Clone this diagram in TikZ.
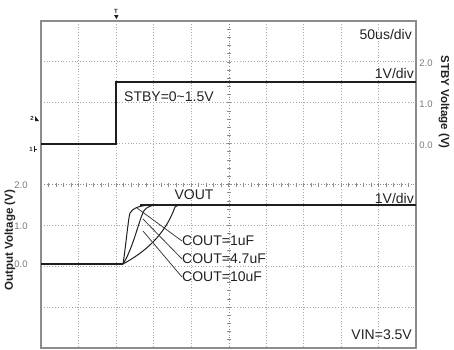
\documentclass[tikz,border=0pt]{standalone}
\usepackage{fontspec}
\setmainfont{Liberation Sans}
\usetikzlibrary{positioning,arrows.meta}
\definecolor{tracegray}{HTML}{1E1E1E}
\definecolor{textgray}{HTML}{222222}
\definecolor{numgray}{HTML}{7A7A7A}
\definecolor{framegray}{HTML}{8C8C8C}
\definecolor{gridgray}{HTML}{A8A8A8}

\begin{document}
\begin{tikzpicture}[x=1pt, y=-1pt, >=Latex,
  lbl/.style={inner sep=0pt, text=textgray, font=\fontsize{14}{16}\selectfont},
  scalelbl/.style={inner sep=0pt, text=numgray, font=\fontsize{9.5}{11}\selectfont},
  axislbl/.style={inner sep=0pt, text=textgray, font=\bfseries\fontsize{11.5}{13}\selectfont},
  marklbl/.style={inner sep=0pt, text=textgray, font=\bfseries\fontsize{6}{7}\selectfont},
  trace/.style={draw=tracegray, line width=1.3pt},
  leader/.style={draw=tracegray!85, line width=0.8pt},
  gridline/.style={draw=gridgray, line width=0.8pt, dotted}]
\useasboundingbox (0,0) rectangle (454,349);

% grid
\foreach \k in {1,2,3,4,6,7,8,9}
  \draw[gridline] (41+37.5*\k,21) -- (41+37.5*\k,348);
\foreach \k in {1,2,3,5,6,7}
  \draw[gridline] (41,21+40.875*\k) -- (416,21+40.875*\k);
% centre axes with ticks
\draw[gridline, draw=framegray] (229,21) -- (229,348);
\draw[gridline, draw=framegray] (41,184.5) -- (416,184.5);
\foreach \k in {1,...,39}
  \draw[framegray, line width=0.7pt] (227,21+8.175*\k) -- (231,21+8.175*\k);
\foreach \k in {1,...,49}
  \draw[framegray, line width=0.7pt] (41+7.5*\k,182.5) -- (41+7.5*\k,186.5);
% frame
\draw[framegray, line width=1.2pt] (41,21) rectangle (416,348);

% markers
\node[marklbl] (trig) at (116,11) {T};
\fill[tracegray] (114,15) -- (118.5,15) -- (116.5,19) -- cycle;
\node[marklbl] (ch2) at (32,118) {2};
\fill[tracegray] (35,116) -- (35,121) -- (39,121) -- cycle;
\node[marklbl] (ch1) at (31,149) {1};
\draw[tracegray, line width=0.7pt] (34,146) -- (34,152) (34,149) -- (37,149);

% STBY trace
\draw[trace] (41,144) -- (116,144) -- (116,82) -- (416,82);

% VOUT traces
\coordinate (rise) at (123,264);
\draw[trace] (41,264) -- (rise);
\draw[trace] (140,205) -- (416,205);
\draw[trace, line width=1pt] (rise) .. controls (126,245) and (128,220) .. (130,213)
  .. controls (133,208) and (138,206) .. (150,205);
\draw[trace, line width=1pt] (rise) .. controls (132,250) and (138,225) .. (142,215)
  .. controls (144,209) and (147,206) .. (156,205);
\draw[trace, line width=1pt] (rise) .. controls (145,252) and (165,235) .. (175,207)
  .. controls (177,205.5) .. (182,205);

% labels
\node[lbl, anchor=east] (tdiv) at (412,34) {50us/div};
\node[lbl, anchor=east] (vdiv1) at (414,73) {1V/div};
\node[lbl, anchor=west] (stby) at (124,97) {STBY=0\char"007E 1.5V};
\node[lbl] (vout) at (194,195) {VOUT};
\node[lbl, anchor=east] (vdiv2) at (414,198) {1V/div};
\node[lbl, anchor=west] (cout1) at (182,241) {COUT=1uF};
\node[lbl, anchor=west] (cout2) at (182,259) {COUT=4.7uF};
\node[lbl, anchor=west] (cout3) at (182,277) {COUT=10uF};
\node[lbl, anchor=east] (vin) at (412,335) {VIN=3.5V};

% leaders
\coordinate (knee1) at (137,208);
\coordinate (knee2) at (143,219);
\coordinate (knee3) at (143,231);
\draw[leader] (knee1) -- (cout1.west);
\draw[leader] (knee2) -- (cout2.west);
\draw[leader] (knee3) -- (cout3.west);

% scales
\node[scalelbl] (r2) at (426,63) {2.0};
\node[scalelbl] (r1) at (426,104) {1.0};
\node[scalelbl] (r0) at (426,145) {0.0};
\node[scalelbl] (l2) at (21,185) {2.0};
\node[scalelbl] (l1) at (21,226) {1.0};
\node[scalelbl] (l0) at (21,264) {0.0};
\node[axislbl, rotate=-90] (stbyax) at (444,102) {STBY Voltage (V)};
\node[axislbl, rotate=90] (voutax) at (10,240) {Output Voltage (V)};
\end{tikzpicture}
\end{document}
